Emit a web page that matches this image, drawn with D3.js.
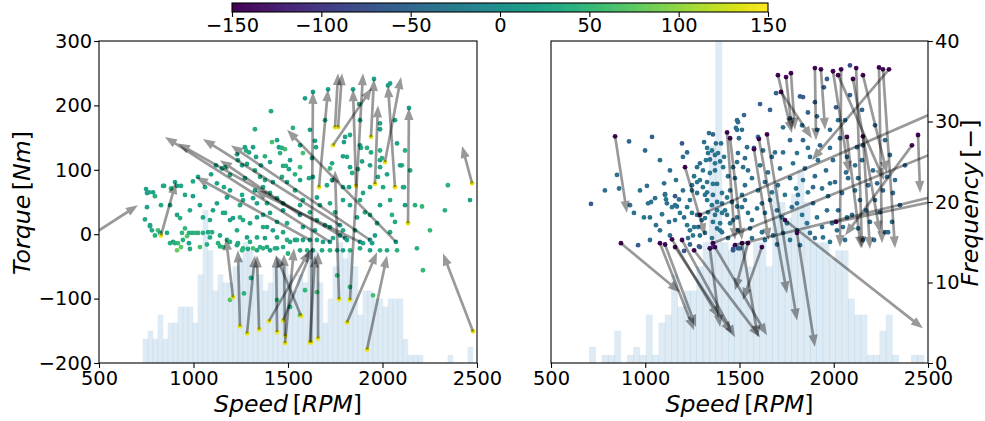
<!DOCTYPE html>
<html><head><meta charset="utf-8">
<script src="https://cdn.jsdelivr.net/npm/d3@7"></script>
<style>body{margin:0;background:#fff}text{font-family:"DejaVu Sans",sans-serif}</style>
</head><body><svg id="c" width="985" height="421"></svg>
<script>
// ---------- data ----------
const speedTicks=[500,1000,1500,2000,2500];
const torqueTicks=[-200,-100,0,100,200,300];
const freqTicks=[0,10,20,30,40];
const colorTicks=[-150,-100,-50,0,50,100,150];

const leftHistStart=731, leftHistWidth=26.45;
const leftHistCounts=[3,4,3,6,3,5,5,7,7,7,5,11,19,14,9,11,10,10,12,13,15,14,12,11,9,10,12,13,12,11,9,11,10,14,14,10,5,8,12,15,13,14,12,6,9,9,8,8,7,8,8,8,3,1,1,1,0,0,0,0,0,1,0,0,0,2];
const rightHistStart=701.6, rightHistWidth=33.5;
const rightHistCounts=[2,0,1,1,4,0,1,2,1,6,1,5,6,11,7,9,9,12,15,27,40,15,14,15,15,12,15,15,12,22,20,18,21,24,20,15,15,15,13,14,14,8,6,6,1,1,4,6,1,0,0,1,1];

// [speed, torque, value]
const leftPoints=[[1410,191,30],[1325,163,40],[1415,143,60],[1442,146,30],[1452,135,20],[1484,132,60],[1272,135,20],[1278,130,30],[1315,135,20],[1294,127,30],[1331,120,20],[1378,121,40],[1357,107,20],[1458,126,40],[1405,112,20],[1474,106,30],[1119,107,20],[1151,102,20],[1167,104,30],[1230,124,20],[1235,115,30],[1257,107,20],[1283,109,30],[1093,93,20],[1161,73,30],[1124,79,20],[1024,89,20],[997,82,30],[902,81,20],[934,75,30],[844,75,20],[881,71,40],[749,70,20],[765,65,30],[786,65,20],[796,59,40],[955,61,30],[997,59,20],[1061,73,30],[1420,81,20],[1352,89,30],[1368,73,20],[1468,89,30],[1505,101,20],
[754,42,20],[743,23,30],[770,12,40],[780,6,30],[812,6,60],[860,2,30],[876,-14,40],[892,-12,20],[918,-14,60],[934,-20,70],[913,-25,80],[944,-9,40],[966,-3,70],[976,2,40],[976,-14,20],[981,-23,30],[1008,2,50],[1024,2,40],[1050,2,40],[1077,3,30],[1098,3,40],[1034,-20,60],[1071,-16,40],[1087,-5,30],[1130,-14,40],[1156,-20,50],[1177,-9,30],[1193,-12,40],[1235,-14,30],[1262,-22,40],[1288,-23,30],[1315,-22,60],[1352,-20,40],[1389,-20,30],[1431,-22,40],[1474,-20,30],[1500,-30,40],[1304,-68,30],[1267,-92,40],[1193,-102,70],[754,64,20],[828,45,30],[913,30,20],[1050,26,30],[1124,48,20],[1167,33,30],[1209,25,20],[1262,22,30],[1336,26,20],[1368,30,30],[1405,33,20],[1442,19,30],[1474,37,20],[1230,6,30],[1283,-5,20],[1336,-5,30],[1389,11,20],[1442,-5,30],[1177,57,20],[1257,61,30],[1315,56,20],[1389,48,30],[1442,56,20],
[839,75,30],[913,75,20],[770,14,20],[796,-2,40],[823,2,20],[902,-14,40],[939,2,50],[992,2,40],[1140,-19,40],[1230,-17,30],[1257,-25,50],[1336,-25,30],[1368,-22,40],[1405,-25,20],[1442,-22,30],[1511,-12,30],[1548,-9,40],[1564,-25,30],[1601,-25,40],[1632,-25,20],[1680,-25,30],[1722,-25,40],[1760,-25,30],[1791,-25,20],[1828,-25,40],[1881,-22,30],[1934,-25,20],[1987,-25,40],[2024,-25,30],[2077,-25,40],[1945,-14,20],[1897,-14,30],[1812,-9,20],[1738,-6,30],[1685,-12,20],[1653,-9,30],[1579,-9,20],[1495,-9,40],[1103,37,20],[1156,33,30],[1193,22,20],[1246,26,40],[1299,17,20],[1368,11,30],[1420,6,20],[1495,17,30],[1579,11,20],[1653,22,30],[1722,11,20],[1791,6,30],[1865,26,20],[1934,30,30],[1971,17,20],[1262,53,30],[1336,48,20],[1405,64,30],[1474,48,20],[1579,53,30],[1653,57,20],[1722,48,30],[1791,53,20],[1881,53,30],[1934,73,20],[2003,73,30],[2109,73,20],[2182,-22,40],[2214,-56,50],[2463,53,20],[2346,76,40],
[1760,-64,50],[1950,-95,60],[1442,-102,50],[1511,-113,40],[1564,-126,60],[1590,-87,50],[1828,-82,40],[1653,-90,60],[2209,43,50],
[1590,211,20],[1526,165,40],[1643,145,20],[1648,135,30],[1564,104,50],[1468,134,40],[1489,106,40],[1579,126,60],[1627,118,20],[1722,102,50],[1733,110,30],[1791,121,20],[1812,120,30],[1802,151,20],[1796,143,20],[1881,138,20],[1886,134,30],[1918,134,40],[1939,127,30],[1987,130,40],[1987,115,20],[1987,172,30],[1987,163,20],[1997,118,40],[1934,107,20],[1987,104,30],[1976,89,30],[2077,141,20],[2103,107,40],[2114,73,30],[2024,93,20],[1839,95,40],[1828,104,20],[1870,101,30],[1892,113,20],[1897,64,30],[1823,73,20],[1791,73,30],[1733,84,20],[1706,76,30],[1632,89,20],[1611,87,30],[1564,84,20],[1537,93,40],[1495,81,20],[1876,202,20],[2040,234,20],[2066,19,30],[2119,45,20],[2040,53,30],
[1378,84,30],[1325,68,20],[1246,45,30],[1193,68,20],[1537,68,30],[1564,45,20],[1616,34,30],[1669,45,20],[1749,34,30],[1828,45,20],[1907,34,30],[1987,45,20],[2050,30,40],[1643,6,20],[1696,14,30],[1775,-2,20],[1855,6,30],[1960,-2,20],[2040,3,30],[1087,22,30],[1034,45,20],[981,37,30],[929,25,40],[876,45,20],[955,9,50],[1140,-2,30],[1299,-12,40],[1378,-6,20],[1474,3,30],[1537,-9,20],[1325,99,30],[1272,87,20],[1193,92,30],[1511,115,20],[1564,138,30],[1616,162,20],[1696,177,30],[1881,177,20],[1828,154,30],[2066,177,20],[2119,130,40],[2093,107,20],[2146,99,30],[2172,45,40],[2251,6,50],[2330,37,40]];

// [speed0, torque0, speed1, torque1, tailValue, headValue]
const leftArrows=[[480,2,706,45,null,null],[828,-2,907,81,140,null],[1722,-12,849,151,10,null],[1802,-6,918,141,10,null],[1775,14,1050,148,10,null],[1934,-9,1198,138,10,null],[1564,30,1140,115,10,null],[2071,-12,1495,162,10,null],[1738,138,1944,227,140,null],[2474,79,2421,137,140,null],[1622,-168,1632,221,140,20],[1664,73,1712,225,140,20],[1749,166,1765,250,140,null],[1765,166,1786,250,140,null],[1860,75,1844,225,140,20],[1828,-102,1897,250,140,null],[1939,151,1955,241,140,20],[1960,78,1976,200,140,null],[2066,73,2029,231,140,20],[2013,112,2098,244,140,null],[2135,17,2140,196,140,20],[1246,-143,1235,-25,140,null],[1283,-154,1325,-33,140,null],[1347,-148,1336,-33,140,null],[1399,-135,1616,-25,140,null],[1442,-152,1437,-33,140,null],[1484,-158,1479,-31,140,null],[1484,-169,1532,-22,140,null],[1616,-168,1643,-33,140,null],[1659,-162,1659,-28,140,null],[1812,-137,1971,-28,140,null],[1918,-179,2024,-33,140,null],[2479,-151,2320,-30,140,null],[1770,-101,1749,99,140,null],[1209,-98,1172,-6,140,null],[1569,-127,1437,-33,140,null],[1474,-134,1632,-20,140,null],[1616,-9,1013,89,10,null],[1881,-12,1325,68,10,null]];

const rightPoints=[[914,144,-50],[1036,151,-60],[1195,141,-70],[1200,120,-40],[1222,127,-50],[850,92,-40],[861,71,-40],[786,68,-45],[712,47,-65],[1009,75,-40],[1100,79,-40],[1105,62,-60],[1158,59,-70],[1259,90,-40],[1275,104,-40],[1290,110,-50],[1312,143,-40],[1338,157,-40],[1359,155,-50],[1375,141,-40],[1402,141,-40],[1328,134,-30],[1333,126,-35],[1354,130,-30],[1370,123,-40],[1386,126,-30],[1322,115,-30],[1343,116,-40],[1370,110,-30],[1397,113,-40],[1418,120,-30],[1306,99,-30],[1343,95,-30],[1370,99,-40],[1413,104,-30],[1248,76,-40],[1275,81,-30],[1306,73,-30],[1328,81,-35],[1359,78,-30],[1381,78,-40],[1248,68,-30],[1275,64,-35],[1328,65,-30],[1359,61,-40],[1407,64,-30],[1439,90,-40],[1466,104,-35],[1492,126,-45],[1481,165,-40],[1492,174,-45],[940,33,-40],[993,26,-30],[1025,26,-40],[1015,48,-35],[1031,50,-40],[1057,14,-40],[1089,31,-30],[1126,19,-40],[1105,61,-35],[1110,54,-30],[1115,48,-40],[1142,42,-30],[1168,43,-40],[1184,33,-30],[1206,26,-45],[1222,42,-30],[1179,54,-40],[1248,33,-30],[1275,30,-40],[1222,14,-30],[1237,6,-40],[1253,-2,-30],[1259,11,-35],[1280,11,-30],[1301,22,-40],[1317,25,-30],[1317,2,-40],[1290,-20,-60],[1237,-16,-50],[1206,-26,-70],[962,-17,-60],[1343,-22,-70],[1359,-20,-80],[1285,-19,-60],[1328,53,-30],[1354,45,-35],[1381,50,-30],[1407,48,-40],[1434,57,-30],[1460,50,-40],[1487,43,-30],[1333,34,-30],[1370,30,-40],[1407,33,-30],[1434,30,-40],[1359,19,-35],[1397,17,-30],[1381,9,-40],[1407,3,-30],[1466,-23,-60],[1492,-22,-55],[1466,22,-40],[1158,45,-35],
[1609,202,-60],[1694,219,-55],[1821,214,-60],[1837,213,-65],[1900,205,-60],[1964,241,-60],[1948,228,-55],[1911,183,-50],[1731,166,-40],[1832,169,-45],[2012,197,-60],[2023,177,-45],[1911,162,-40],[1980,162,-45],[1837,146,-50],[1863,134,-40],[1927,138,-50],[1980,134,-40],[2033,149,-55],[2123,135,-45],[2070,120,-40],[2113,107,-35],[2150,115,-40],[2155,138,-50],[1672,120,-40],[1688,127,-45],[1625,130,-40],[1768,146,-45],[1731,127,-40],[1805,126,-35],[1874,120,-40],[1540,135,-40],[1497,149,-45],[1487,112,-40],[1529,118,-45],[1519,104,-40],[1577,134,-40],[1598,151,-45],[1487,177,-45],[1487,162,-40],[1513,162,-40],[1524,185,-50],[1810,61,-40],[1890,73,-45],[1980,79,-40],[2230,79,-55],[2261,68,-50],[2314,64,-45],[2208,99,-45],[2282,89,-50],[2086,262,-80],
[1450,17,-35],[1487,26,-40],[1513,42,-35],[1529,53,-40],[1545,33,-35],[1566,22,-40],[1593,40,-35],[1619,48,-45],[1635,33,-35],[1662,53,-40],[1699,37,-45],[1725,26,-40],[1752,17,-35],[1778,42,-45],[1805,48,-40],[1832,30,-35],[1858,17,-40],[1890,48,-45],[1911,26,-35],[1938,11,-40],[1964,37,-45],[1991,17,-35],[2017,6,-40],[2049,11,-45],[2070,26,-35],[2023,37,-40],[1943,-5,-35],[1874,2,-40],[1805,6,-45],[1731,2,-35],[1678,-2,-40],[1619,3,-35],[1556,9,-40],[1492,6,-35],[1466,-25,-70],[1503,-22,-60],[2272,3,-55],[2288,3,-50],
[1529,76,-35],[1566,87,-40],[1598,68,-30],[1635,81,-45],[1672,65,-35],[1704,76,-40],[1741,61,-30],[1768,87,-45],[1800,71,-35],[1837,84,-40],[1863,65,-30],[1900,90,-45],[1938,71,-35],[1970,59,-40],[2007,81,-50],[2044,64,-40],[2076,87,-45],[2113,68,-35],[2139,53,-40],[2097,30,-45],[2129,9,-40],[2171,37,-50],[2192,19,-45],[2060,-9,-40],[1980,-12,-35],[1900,-6,-45],[1821,-17,-40],[1768,-9,-35],[1699,-16,-45],[1635,-9,-40],[1566,-6,-35],[1545,99,-40],[1609,107,-35],[1651,96,-45],[1715,102,-40],[1784,110,-35],[1847,102,-45],[1916,115,-40],[1959,99,-50],[1996,115,-40],[2065,96,-45],[2129,87,-40],[2182,76,-50],[2219,53,-45],[2245,34,-40],[2155,-9,-50],[2214,-9,-45],[2309,19,-40],[2351,45,-50],[2325,84,-45],[2378,107,-55],[1397,6,-35],[1439,-6,-40],[1423,37,-30],[1450,68,-35],[1476,87,-40],[1513,61,-35],[1237,53,-30],[1200,68,-40],[1163,84,-35],[1131,99,-45],[1078,115,-40],[999,130,-50],[1290,84,-30],[1317,61,-35],[1381,37,-30],[1290,-2,-40],[1354,-6,-35],[1227,-6,-45],[1052,56,-40],[972,68,-35],[919,45,-45],[1078,6,-40],[1158,22,-35],[1131,-2,-45],[1025,-9,-50],[1662,193,-55],[1768,180,-50],[2086,216,-60],[2150,193,-55],[2219,169,-50],[2272,146,-45],[2298,123,-50],[2060,177,-45],[1863,189,-55]];

const rightArrows=[[840,152,903,33,-145,null],[871,-14,1184,-90,-145,null],[1078,-14,1259,-149,-145,null],[1105,-16,1269,-144,-145,null],[1142,-8,1391,-130,-145,null],[1158,-20,1460,-154,-145,null],[1195,-9,1476,-160,-145,null],[1211,104,1317,-2,-145,null],[1259,-25,1609,-160,-145,null],[1343,-22,1397,-144,-145,null],[1370,-20,1646,-157,-145,null],[1434,158,1476,-9,-145,null],[1450,149,1513,-9,-145,null],[1577,132,1655,-9,-145,null],[1603,148,1752,-92,-145,null],[1646,155,1805,-134,-145,null],[1619,-20,1518,-102,-145,null],[1704,247,1778,157,-145,null],[1747,244,1778,162,-145,null],[1773,250,1794,162,-145,null],[1720,221,1884,149,-145,null],[1900,258,1906,146,-145,null],[1932,256,1954,162,-145,null],[1996,253,2081,95,-145,null],[2023,247,2267,84,-145,null],[2039,256,2033,-20,-145,null],[2119,258,2150,-22,-145,null],[2155,247,2282,95,-145,null],[2102,241,2245,2,-145,null],[2240,259,2256,-14,-145,null],[2261,256,2325,-22,-145,null],[2293,256,1884,115,-145,null],[2447,154,2458,64,-145,null],[2415,138,2060,-2,-145,null],[2155,152,2192,-23,-145,null],[2070,151,2145,-22,-145,null],[1741,22,2473,-146,-145,null],[1290,30,2564,193,-145,null],[1359,-14,2564,130,-145,null],[1476,-17,2564,61,-145,null],[2012,19,2564,53,-145,null],[1805,2,1900,-175,-145,null],[1545,-14,1476,-87,-145,null],[1513,-14,1598,-160,-145,null]];

// ---------- drawing ----------
const svg=d3.select("#c");
const yTop=41,yBot=363;
const yT=d3.scaleLinear().domain([-200,300]).range([yBot,yTop]);
const yF=d3.scaleLinear().domain([0,40]).range([yBot,yTop]);
const color=d3.scaleSequential(d3.interpolateViridis).domain([-150,150]);
const FS=19.4, LFS=23.6, TL=4.9;

const panels=[
 {id:"L",x0:99,x1:477,pts:leftPoints,arr:leftArrows,hs:leftHistStart,hw:leftHistWidth,hc:leftHistCounts},
 {id:"R",x0:551,x1:928,pts:rightPoints,arr:rightArrows,hs:rightHistStart,hw:rightHistWidth,hc:rightHistCounts}
];

const defs=svg.append("defs");
function arrowPath(x0,y0,x1,y1){
  const dx=x1-x0,dy=y1-y0,L=Math.hypot(dx,dy);const ux=dx/L,uy=dy/L,nx=-uy,ny=ux;
  const hl=Math.min(12,L*0.6),w=1.35,hw=4.6;
  const bx=x1-ux*hl,by=y1-uy*hl;
  const p=[[x0+nx*w,y0+ny*w],[bx+nx*w,by+ny*w],[bx+nx*hw,by+ny*hw],[x1,y1],[bx-nx*hw,by-ny*hw],[bx-nx*w,by-ny*w],[x0-nx*w,y0-ny*w]];
  return "M"+p.map(q=>q[0].toFixed(2)+","+q[1].toFixed(2)).join("L")+"Z";
}
function mathLabel(t,parts){
  t.attr("font-size",LFS).attr("fill","#000");
  parts.forEach(p=>t.append("tspan").text(p[0]).attr("font-style",p[1]?"italic":"normal"));
  return t;
}

panels.forEach(P=>{
  const x=d3.scaleLinear().domain([500,2500]).range([P.x0,P.x1]);
  defs.append("clipPath").attr("id","clip"+P.id).append("rect")
    .attr("x",P.x0).attr("y",yTop).attr("width",P.x1-P.x0).attr("height",yBot-yTop);
  const g=svg.append("g").attr("clip-path","url(#clip"+P.id+")");
  g.append("g").selectAll("rect").data(P.hc).join("rect")
    .attr("x",(d,i)=>x(P.hs+i*P.hw))
    .attr("width",x(P.hs+P.hw)-x(P.hs)+0.6)
    .attr("y",d=>yF(d)).attr("height",d=>yBot-yF(d))
    .attr("fill","#1f77b4").attr("fill-opacity",d=>d>0?0.15:0);
  g.append("g").selectAll("circle").data(P.pts).join("circle")
    .attr("cx",d=>x(d[0])).attr("cy",d=>yT(d[1])).attr("r",2.4).attr("fill",d=>color(d[2]));
  const ends=[];
  P.arr.forEach(a=>{ if(a[4]!==null) ends.push([a[0],a[1],a[4]]); if(a[5]!==null) ends.push([a[2],a[3],a[5]]); });
  g.append("g").selectAll("circle").data(ends).join("circle")
    .attr("cx",d=>x(d[0])).attr("cy",d=>yT(d[1])).attr("r",2.4).attr("fill",d=>color(d[2]));
  g.append("g").selectAll("path").data(P.arr).join("path")
    .attr("d",a=>arrowPath(x(a[0]),yT(a[1]),x(a[2]),yT(a[3])))
    .attr("fill","#000").attr("fill-opacity",0.4);
  const ax=svg.append("g").attr("transform",`translate(0,${yBot})`)
    .call(d3.axisBottom(x).tickValues(speedTicks).tickFormat(d3.format("d")).tickSize(TL).tickPadding(3.5));
  ax.select(".domain").remove();
  ax.selectAll("text").attr("font-size",FS).attr("fill","#000").attr("font-family","DejaVu Sans");
  ax.selectAll("line").attr("stroke","#000").attr("stroke-width",1.1);
  svg.append("rect").attr("x",P.x0).attr("y",yTop).attr("width",P.x1-P.x0).attr("height",yBot-yTop)
    .attr("fill","none").attr("stroke","#000").attr("stroke-width",1.1);
  mathLabel(svg.append("text").attr("x",(P.x0+P.x1)/2).attr("y",412).attr("text-anchor","middle"),
    [["Speed",1],["\u2009[",0],["RPM",1],["]",0]]);
});

const ay=svg.append("g").attr("transform","translate(99,0)")
  .call(d3.axisLeft(yT).tickValues(torqueTicks).tickSize(TL).tickPadding(2));
ay.select(".domain").remove();
ay.selectAll("text").attr("font-size",FS).attr("fill","#000").attr("font-family","DejaVu Sans");
ay.selectAll("line").attr("stroke","#000").attr("stroke-width",1.1);
mathLabel(svg.append("text").attr("transform","translate(30,203) rotate(-90)").attr("text-anchor","middle"),
  [["Torque",1],["\u2009[",0],["Nm",1],["]",0]]);

const ar=svg.append("g").attr("transform","translate(928,0)")
  .call(d3.axisRight(yF).tickValues(freqTicks).tickSize(TL).tickPadding(2));
ar.select(".domain").remove();
ar.selectAll("text").attr("font-size",FS).attr("fill","#000").attr("font-family","DejaVu Sans");
ar.selectAll("line").attr("stroke","#000").attr("stroke-width",1.1);
mathLabel(svg.append("text").attr("transform","translate(978,203) rotate(-90)").attr("text-anchor","middle"),
  [["Frequency",1],["\u2009[\u2212]",0]]);

const cx=d3.scaleLinear().domain([-150,150]).range([232,768]);
const grad=defs.append("linearGradient").attr("id","vir").attr("x1","0%").attr("x2","100%");
d3.range(0,1.0001,0.05).forEach(t=>grad.append("stop").attr("offset",(t*100)+"%").attr("stop-color",d3.interpolateViridis(t)));
svg.append("rect").attr("x",232).attr("y",3).attr("width",536).attr("height",9).attr("fill","url(#vir)")
  .attr("stroke","#000").attr("stroke-width",1.1);
const ac=svg.append("g").attr("transform","translate(0,12)")
  .call(d3.axisBottom(cx).tickValues(colorTicks).tickSize(TL).tickPadding(1.5));
ac.select(".domain").remove();
ac.selectAll("text").attr("font-size",FS).attr("fill","#000").attr("font-family","DejaVu Sans");
ac.selectAll("line").attr("stroke","#000").attr("stroke-width",1.1);
</script></body></html>
